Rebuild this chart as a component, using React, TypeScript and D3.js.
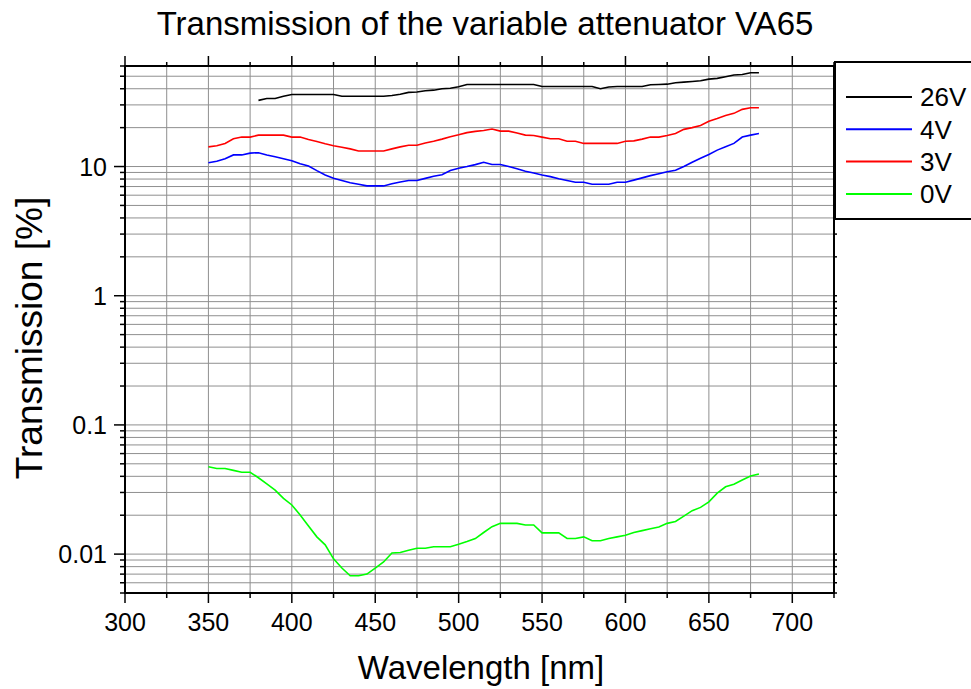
import React from "react";
import * as d3 from "d3";

const wavelengths26 = [380,385,390,395,400,405,410,415,420,425,430,435,440,445,450,455,460,465,470,475,480,485,490,495,500,505,510,515,520,525,530,535,540,545,550,555,560,565,570,575,580,585,590,595,600,605,610,615,620,625,630,635,640,645,650,655,660,665,670,675,680];
const values26V = [32.5,33.6,33.6,35,36.1,36.1,36.1,36.1,36.1,36.1,35.0,35.0,35.0,35.0,35.0,35.0,35.5,36.3,37.5,37.7,38.6,39.0,40.0,40.4,41.5,43.2,43.2,43.2,43.2,43.2,43.2,43.2,43.2,43.2,41.6,41.6,41.6,41.6,41.6,41.6,41.6,40.0,41.3,41.6,41.6,41.6,41.6,43.0,43.2,43.4,44.5,45.0,45.5,46.1,47.5,48.1,49.5,51.1,51.6,53.2,53.2];

const wavelengths = [350,355,360,365,370,375,380,385,390,395,400,405,410,415,420,425,430,435,440,445,450,455,460,465,470,475,480,485,490,495,500,505,510,515,520,525,530,535,540,545,550,555,560,565,570,575,580,585,590,595,600,605,610,615,620,625,630,635,640,645,650,655,660,665,670,675,680];
const values4V = [10.7,11.0,11.5,12.3,12.3,12.7,12.8,12.3,11.9,11.5,11.1,10.5,10.1,9.3,8.6,8.1,7.8,7.5,7.3,7.08,7.08,7.08,7.35,7.6,7.8,7.8,8.1,8.4,8.65,9.3,9.7,10.0,10.35,10.8,10.36,10.36,10.0,9.6,9.2,8.9,8.6,8.35,8.05,7.8,7.55,7.55,7.3,7.3,7.3,7.55,7.55,7.85,8.17,8.5,8.8,9.1,9.36,10.0,10.8,11.6,12.4,13.4,14.2,15.1,16.9,17.5,18.0];
const values3V = [14.2,14.5,15.1,16.4,16.9,16.9,17.5,17.5,17.5,17.5,16.9,16.9,16.2,15.6,15.0,14.5,14.1,13.7,13.2,13.2,13.2,13.2,13.7,14.2,14.6,14.6,15.2,15.7,16.3,17.0,17.6,18.3,18.7,19.0,19.5,18.8,18.8,18.2,17.5,17.4,16.9,16.4,16.4,15.7,15.7,15.1,15.1,15.1,15.1,15.1,15.7,15.8,16.3,16.9,16.9,17.4,18.0,19.4,20.0,20.8,22.4,23.5,24.8,25.8,27.7,28.5,28.5];
const values0V = [0.0475,0.046,0.046,0.0445,0.043,0.043,0.039,0.035,0.0313,0.027,0.024,0.0201,0.0165,0.0136,0.0118,0.0092,0.0078,0.0068,0.0068,0.0070,0.0078,0.0087,0.0102,0.0103,0.0107,0.0111,0.0111,0.0114,0.0114,0.0114,0.0119,0.0125,0.0132,0.0147,0.0163,0.0173,0.0173,0.0173,0.0168,0.0168,0.0146,0.0146,0.0146,0.0132,0.0132,0.0136,0.0127,0.0127,0.0132,0.0136,0.0140,0.0147,0.0152,0.0157,0.0162,0.0173,0.0179,0.0197,0.0217,0.0230,0.0254,0.0296,0.0332,0.0348,0.0375,0.0402,0.0417];

const seriesNames = ["26V", "4V", "3V", "0V"];
const seriesColors = ["#000000", "#0000ff", "#ff0000", "#00ff00"];

const xMajorTicks = [300,350,400,450,500,550,600,650,700];
const yMajorTicks = [0.01, 0.1, 1, 10];
const yTickLabels = ["0.01", "0.1", "1", "10"];

const title = "Transmission of the variable attenuator VA65";
const xLabel = "Wavelength [nm]";
const yLabel = "Transmission [%]";

export default function App() {
  const W = 971, H = 689;
  const left = 125, right = 834, top = 66, bottom = 593;
  const x = d3.scaleLinear().domain([300, 725]).range([left, right]);
  const y = d3.scaleLog().domain([0.005, 60]).range([bottom, top]);

  const series = [
    { name: seriesNames[0], color: seriesColors[0], xs: wavelengths26, ys: values26V },
    { name: seriesNames[1], color: seriesColors[1], xs: wavelengths, ys: values4V },
    { name: seriesNames[2], color: seriesColors[2], xs: wavelengths, ys: values3V },
    { name: seriesNames[3], color: seriesColors[3], xs: wavelengths, ys: values0V },
  ];

  const line = d3.line<[number, number]>().x(d => x(d[0])).y(d => y(d[1]));

  const xAll = d3.range(300, 726, 25);
  const yMinor: number[] = [];
  for (let e = -3; e <= 1; e++) {
    for (let m = 1; m <= 9; m++) {
      const v = m * Math.pow(10, e);
      if (v >= 0.005 - 1e-9 && v <= 60 + 1e-9) yMinor.push(v);
    }
  }

  const font = "'Liberation Sans', Arial, sans-serif";
  const gridColor = "#8f8f8f";

  return (
    <svg width={W} height={H} style={{ position: "absolute", left: 0, top: 0, background: "#fff" }} fontFamily={font}>
      <rect x={0} y={0} width={W} height={H} fill="#fff" />
      {/* grid */}
      {xAll.map(v => (
        <line key={"gx" + v} x1={x(v)} x2={x(v)} y1={top} y2={bottom} stroke={gridColor} strokeWidth={1} />
      ))}
      {yMinor.map(v => (
        <line key={"gy" + v} x1={left} x2={right} y1={y(v)} y2={y(v)} stroke={gridColor} strokeWidth={1} />
      ))}
      {/* series */}
      {series.map(s => (
        <path key={s.name} d={line(s.xs.map((w, i) => [w, s.ys[i]] as [number, number])) || ""} fill="none" stroke={s.color} strokeWidth={1.6} />
      ))}
      {/* frame */}
      <rect x={left} y={top} width={right - left} height={bottom - top} fill="none" stroke="#000" strokeWidth={2} />
      {/* x ticks bottom & top */}
      {xAll.map(v => {
        const major = xMajorTicks.includes(v);
        return (
          <g key={"tx" + v}>
            <line x1={x(v)} x2={x(v)} y1={bottom} y2={bottom + (major ? 10 : 5)} stroke="#000" strokeWidth={1.5} />
            <line x1={x(v)} x2={x(v)} y1={top} y2={top - (major ? 10 : 4)} stroke="#000" strokeWidth={1.5} />
          </g>
        );
      })}
      {xMajorTicks.map(v => (
        <text key={"lx" + v} x={x(v)} y={631} fontSize={25} textAnchor="middle" fill="#000">{v}</text>
      ))}
      {/* y ticks */}
      {yMinor.map(v => {
        const major = yMajorTicks.some(t => Math.abs(t - v) < 1e-12);
        return (
          <g key={"ty" + v}>
            <line x1={left - (major ? 11 : 5)} x2={left + 1} y1={y(v)} y2={y(v)} stroke="#000" strokeWidth={1.5} />
            <line x1={right} x2={right + 3} y1={y(v)} y2={y(v)} stroke="#000" strokeWidth={1.5} />
          </g>
        );
      })}
      {yMajorTicks.map((v, i) => (
        <text key={"ly" + v} x={107} y={y(v)} dy="0.36em" fontSize={25} textAnchor="end" fill="#000">{yTickLabels[i]}</text>
      ))}
      {/* titles */}
      <text x={485} y={35} fontSize={33} textAnchor="middle" fill="#000">{title}</text>
      <text x={481} y={679} fontSize={33} textAnchor="middle" fill="#000">{xLabel}</text>
      <text transform={`translate(42,${338}) rotate(-90)`} fontSize={37} textAnchor="middle" fill="#000">{yLabel}</text>
      {/* legend */}
      <rect x={835} y={62} width={160} height={157} fill="#fff" stroke="#000" strokeWidth={2} />
      {series.map((s, i) => (
        <g key={"lg" + s.name}>
          <line x1={846} x2={912} y1={97 + i * 32.3} y2={97 + i * 32.3} stroke={s.color} strokeWidth={2} />
          <text x={920} y={97 + i * 32.3} dy="0.36em" fontSize={26} fill="#000">{s.name}</text>
        </g>
      ))}
    </svg>
  );
}
